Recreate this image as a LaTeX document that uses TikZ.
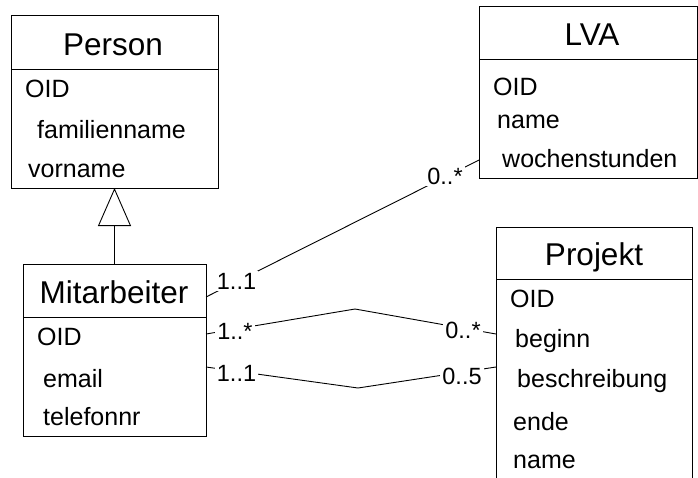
\documentclass[tikz,border=0pt]{standalone}
\usepackage{fontspec}
\setmainfont{Liberation Sans}
\usetikzlibrary{arrows.meta}
\begin{document}
\begin{tikzpicture}[x=1pt,y=-1pt,
  classbox/.style={draw, line width=0.9pt, inner sep=0pt, outer sep=0pt, anchor=north west},
  title/.style={font=\fontsize{31.5}{37}\selectfont, anchor=base, inner sep=0pt},
  attr/.style={font=\fontsize{25}{30}\selectfont, anchor=base west, inner sep=0pt},
  mult/.style={font=\fontsize{23.5}{28}\selectfont, fill=white, inner sep=2pt},
  conn/.style={line width=0.9pt}]
\useasboundingbox (0,0) rectangle (698,477);
\clip (0,0) rectangle (698,477);
\fill[white] (0,0) rectangle (698,477);

% Person
\node[classbox, minimum width=207pt, minimum height=173pt] (person) at (11,15) {};
\draw[conn] (person.west |- 0,69) -- (person.east |- 0,69);
\node[title] (personT) at (113,55) {Person};
\node[attr] (pA1) at (25,97) {OID};
\node[attr] (pA2) at (37,138) {familienname};
\node[attr] (pA3) at (28,177) {vorname};

% Mitarbeiter
\node[classbox, minimum width=183pt, minimum height=172pt] (mit) at (23,264) {};
\draw[conn] (mit.west |- 0,317) -- (mit.east |- 0,317);
\node[title] (mitT) at (114,303) {Mitarbeiter};
\node[attr] (mA1) at (37,345) {OID};
\node[attr] (mA2) at (43,387) {email};
\node[attr] (mA3) at (43,425) {telefonnr};

% LVA
\node[classbox, minimum width=218pt, minimum height=172pt] (lva) at (479,6) {};
\draw[conn] (lva.west |- 0,59) -- (lva.east |- 0,59);
\node[title] (lvaT) at (592,45) {LVA};
\node[attr] (lA1) at (493,95) {OID};
\node[attr] (lA2) at (497,128) {name};
\node[attr] (lA3) at (502,167) {wochenstunden};

% Projekt
\node[classbox, minimum width=196pt, minimum height=280pt] (proj) at (496,227) {};
\draw[conn] (proj.west |- 0,279) -- (proj.east |- 0,279);
\node[title] (projT) at (594,265) {Projekt};
\node[attr] (jA1) at (510,307) {OID};
\node[attr] (jA2) at (515,347) {beginn};
\node[attr] (jA3) at (517,387) {beschreibung};
\node[attr] (jA4) at (513,430) {ende};
\node[attr] (jA5) at (513,468) {name};

% Generalisation
\draw[conn, -{Triangle[open, length=38pt, width=33pt, line width=0.9pt]}] (mit.north) -- (person.south);

% Mitarbeiter -- LVA
\coordinate (m1) at (mit.east |- 0,297);
\coordinate (l1) at (lva.west |- 0,160);
\draw[conn] (m1) -- (l1);
\node[mult] (m1lab) at (236.5,281) {1..1};
\node[mult] (l1lab) at (445,176) {0..*};

% Mitarbeiter -- Projekt (1..* / 0..*)
\coordinate (m2) at (mit.east |- 0,334);
\coordinate (p2) at (proj.west |- 0,334);
\coordinate (k2) at (355,309);
\draw[conn] (m2) -- (k2) -- (p2);
\node[mult] (m2lab) at (235,331) {1..*};
\node[mult] (p2lab) at (463,330) {0..*};

% Mitarbeiter -- Projekt (1..1 / 0..5)
\coordinate (m3) at (mit.east |- 0,367);
\coordinate (p3) at (proj.west |- 0,367);
\coordinate (k3) at (358,388);
\draw[conn] (m3) -- (k3) -- (p3);
\node[mult] (m3lab) at (236.5,373.5) {1..1};
\node[mult] (p3lab) at (462,376) {0..5};
\end{tikzpicture}
\end{document}
